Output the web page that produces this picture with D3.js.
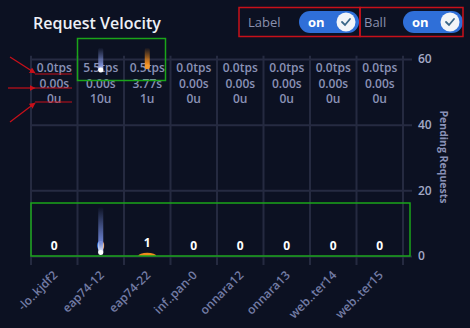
<!DOCTYPE html>
<html><head><meta charset="utf-8">
<script src="https://cdn.jsdelivr.net/npm/d3@7"></script>
<style>
html,body{margin:0;padding:0;background:#0c1122;}
svg{display:block;font-family:"Open Sans",sans-serif;}
</style></head>
<body>
<svg id="c" width="470" height="328"></svg>
<script>
const categories = ["-lo..kjdf2","eap74-12","eap74-22","inf..pan-0","onnara12","onnara13","web..ter14","web..ter15"];
const tps = ["0.0tps","5.5tps","0.5tps","0.0tps","0.0tps","0.0tps","0.0tps","0.0tps"];
const latency = ["0.00s","0.00s","3.77s","0.00s","0.00s","0.00s","0.00s","0.00s"];
const users = ["0u","10u","1u","0u","0u","0u","0u","0u"];
const pending = [0,0,1,0,0,0,0,0];
const yTicks = [0,20,40,60];
// ball snapshots (in pending-request units)
const ballCats = ["eap74-12","eap74-22","eap74-12"];
const ballHead = [56.2, 57.2, 0.6];
const ballTail = [63.5, 63.5, 15];
const ballColor = ["#7d8fd6","#f08a1c","#6f86d8"];

const svg = d3.select("#c");
const W=470,H=328;
svg.append("rect").attr("width",W).attr("height",H).attr("fill","#0c1122");

const x = d3.scaleBand().domain(categories).range([31,403]).padding(0);
const y = d3.scaleLinear().domain([0,60]).range([256,59]);

// title
svg.append("text").attr("x",33).attr("y",29).attr("fill","#eef0f6")
  .attr("font-size",16).attr("font-weight",600).text("Request Velocity");

// horizontal grid + right axis
const ax = svg.append("g").attr("transform","translate(412,0)")
  .call(d3.axisRight(y).tickValues(yTicks).tickSize(-380).tickPadding(6));
ax.select(".domain").remove();
ax.selectAll(".tick line").attr("stroke","#262b42").attr("stroke-width",2);
ax.selectAll(".tick text").attr("fill","#a3a9c6").attr("font-size",12).attr("font-weight",600)
  .attr("font-family","Open Sans");

// vertical band lines
const bounds = categories.map(c=>x(c)).concat([x(categories[categories.length-1])+x.bandwidth()]);
svg.append("g").selectAll("line").data(bounds).join("line")
  .attr("x1",d=>d).attr("x2",d=>d).attr("y1",y(61)).attr("y2",265)
  .attr("stroke","#252a40").attr("stroke-width",2);

// axis title
svg.append("text").attr("transform","translate(440,157) rotate(90)")
  .style("text-anchor","middle").attr("fill","#8a91b6").attr("font-size",10.5)
  .attr("font-weight",700).text("Pending Requests");

// x labels
const xa = svg.append("g").attr("transform","translate(0,256)")
  .call(d3.axisBottom(x).tickSize(0).tickPadding(0));
xa.select(".domain").remove();
xa.selectAll(".tick text").attr("fill","#737ca5").attr("font-size",12).attr("font-weight",600)
  .attr("font-family","Open Sans")
  .attr("text-anchor","end").attr("dy",0)
  .attr("transform","translate(4,20) rotate(-45)");

// row labels
const rows = [tps,latency,users];
rows.forEach((arr,ri)=>{
  svg.append("g").selectAll("text").data(arr).join("text")
    .attr("x",(d,i)=>x(categories[i])+x.bandwidth()/2)
    .attr("y",72+ri*15.5)
    .attr("text-anchor","middle").attr("fill","#8a91b6")
    .attr("font-size",12).attr("font-weight",600).text(d=>d);
});

// bars
svg.append("g").selectAll("path").data(pending).join("path")
  .attr("d",(d,i)=>{
    if(!d) return null;
    const cx=x(categories[i])+x.bandwidth()/2, w=9, b=y(0), h=y(0)-y(d);
    return `M${cx-w},${b} A${w},${h} 0 0 1 ${cx+w},${b} Z`;
  }).attr("fill","#f08a1c");

// balls
const defs = svg.append("defs");
ballCats.forEach((c,i)=>{
  const g = defs.append("linearGradient").attr("id","g"+i).attr("x1",0).attr("x2",0).attr("y1",0).attr("y2",1);
  g.append("stop").attr("offset","0%").attr("stop-color",ballColor[i]).attr("stop-opacity",0);
  g.append("stop").attr("offset","75%").attr("stop-color",ballColor[i]).attr("stop-opacity",0.95);
  g.append("stop").attr("offset","100%").attr("stop-color",i==1?"#f5a040":"#ffffff").attr("stop-opacity",1);
});

// value labels
svg.append("g").selectAll("text").data(pending).join("text")
  .attr("x",(d,i)=>x(categories[i])+x.bandwidth()/2)
  .attr("y",(d)=>y(d)-6)
  .attr("text-anchor","middle").attr("fill","#ffffff")
  .attr("stroke","#0c1122").attr("stroke-width",3).attr("paint-order","stroke")
  .attr("font-size",12).attr("font-weight",700).text(d=>d);

const bg = svg.append("g");
ballCats.forEach((c,i)=>{
  const cx = x(c)+x.bandwidth()/2;
  const top=y(ballTail[i]), head=y(ballHead[i]);
  bg.append("rect").attr("x",cx-2.5).attr("y",top).attr("width",5).attr("height",head-top)
    .attr("rx",2.5).attr("fill",`url(#g${i})`);
  bg.append("circle").attr("cx",cx).attr("cy",head-1.5).attr("r",2.5)
    .attr("fill",i==1?"#f39a30":"#ffffff");
});

// toggles
function toggle(label, lx, px){
  svg.append("text").attr("x",lx).attr("y",27).attr("fill","#8a90ae").attr("font-size",13)
    .attr("font-weight",500).text(label);
  svg.append("rect").attr("x",px).attr("y",11).attr("width",60).attr("height",22).attr("rx",11)
    .attr("fill","#2f6fd8");
  svg.append("text").attr("x",px+9).attr("y",27).attr("fill","#ffffff").attr("font-size",13)
    .attr("font-weight",700).text("on");
  svg.append("circle").attr("cx",px+47).attr("cy",22).attr("r",9.5).attr("fill","#f2f4f8");
  svg.append("path").attr("d",`M${px+43},${22} l3,3 l5,-6`).attr("fill","none")
    .attr("stroke","#3a6688").attr("stroke-width",1.8).attr("stroke-linecap","round");
}
toggle("Label",248,299);
toggle("Ball",364,403);

// annotations
const red="#c8101a", green="#1aa51a";
svg.append("rect").attr("x",239).attr("y",7.5).attr("width",121).attr("height",29).attr("fill","none").attr("stroke",red).attr("stroke-width",1.5);
svg.append("rect").attr("x",360).attr("y",7.5).attr("width",103).attr("height",29).attr("fill","none").attr("stroke",red).attr("stroke-width",1.5);
svg.append("rect").attr("x",77.5).attr("y",38.5).attr("width",88).attr("height",42).attr("fill","none").attr("stroke",green).attr("stroke-width",1.5);
svg.append("rect").attr("x",31).attr("y",203).attr("width",379).attr("height",53).attr("fill","none").attr("stroke",green).attr("stroke-width",1.5);
defs.append("marker").attr("id","ah").attr("viewBox","0 0 10 10").attr("refX",9).attr("refY",5)
  .attr("markerWidth",5).attr("markerHeight",5).attr("orient","auto")
  .append("path").attr("d","M0,0 L10,5 L0,10 Z").attr("fill",red);
[[10,57,35,73,74],[8,88,35,88,88],[10,122,35,103,102]].forEach(a=>{
  svg.append("line").attr("x1",a[0]).attr("y1",a[1]).attr("x2",a[2]).attr("y2",a[3])
    .attr("stroke",red).attr("stroke-width",1.2).attr("marker-end","url(#ah)");
  svg.append("line").attr("x1",35).attr("x2",72).attr("y1",a[4]).attr("y2",a[4])
    .attr("stroke",red).attr("stroke-width",1.2);
});
</script>
</body></html>
